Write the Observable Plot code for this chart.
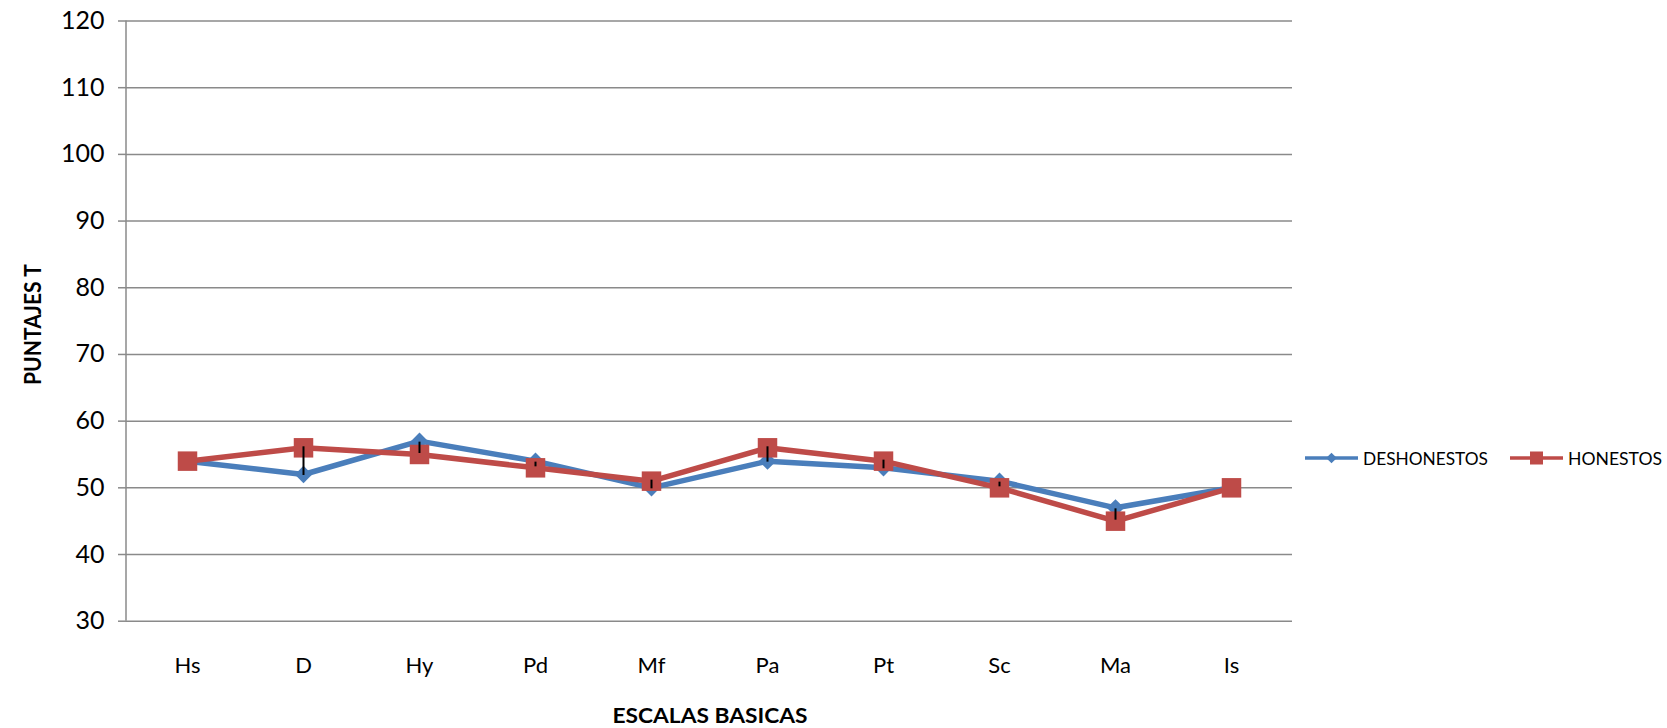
<!DOCTYPE html>
<html>
<head>
<meta charset="utf-8">
<script src="https://cdn.jsdelivr.net/npm/d3@7"></script>
<script src="https://cdn.jsdelivr.net/npm/@observablehq/plot@0.6"></script>
<style>
  html, body { margin: 0; padding: 0; background: #fff; }
  #wrap { position: relative; width: 1667px; height: 728px; font-family: Lato, "Open Sans", sans-serif; }
  #legend { position: absolute; left: 0; top: 0; pointer-events: none; }
</style>
</head>
<body>
<div id="wrap"></div>
<script>
const categories = ["Hs", "D", "Hy", "Pd", "Mf", "Pa", "Pt", "Sc", "Ma", "Is"];
const deshonestos = [54, 52, 57, 54, 50, 54, 53, 51, 47, 50];
const honestos    = [54, 56, 55, 53, 51, 56, 54, 50, 45, 50];
const seriesNames = ["DESHONESTOS", "HONESTOS"];
const yTicks = [30, 40, 50, 60, 70, 80, 90, 100, 110, 120];
const yTitle = "PUNTAJES T";
const xTitle = "ESCALAS BASICAS";

const blue = "#4A7EBB";
const red = "#BE4B48";
const grid = "#8A8A8A";
const font = "Lato, 'Open Sans', sans-serif";

const rows = categories.map((c, i) => ({cat: c, d: deshonestos[i], h: honestos[i]}));

// axis line + axis titles drawn from the frame dimensions
const frameExtras = (index, scales, values, dims) => {
  const g = d3.create("svg:g");
  const top = dims.marginTop, bottom = dims.height - dims.marginBottom;
  const left = dims.marginLeft, right = dims.width - dims.marginRight;
  g.append("line")
    .attr("x1", left).attr("x2", left)
    .attr("y1", top).attr("y2", bottom)
    .attr("stroke", grid).attr("stroke-width", 1.5);
  g.append("text")
    .attr("transform", `translate(${left - 94},${(top + bottom) / 2 + 4}) rotate(-90)`)
    .attr("text-anchor", "middle").attr("dominant-baseline", "central")
    .attr("font-family", font).attr("font-size", 22).attr("font-weight", "bold")
    .attr("textLength", 121).attr("lengthAdjust", "spacingAndGlyphs")
    .attr("fill", "#000").text(yTitle);
  g.append("text")
    .attr("x", (left + right) / 2 + 1).attr("y", bottom + 94)
    .attr("text-anchor", "middle").attr("dominant-baseline", "central")
    .attr("font-family", font).attr("font-size", 21).attr("font-weight", "bold")
    .attr("textLength", 195).attr("lengthAdjust", "spacingAndGlyphs")
    .attr("fill", "#000").text(xTitle);
  return g.node();
};

const chart = Plot.plot({
  width: 1667,
  height: 728,
  marginLeft: 126,
  marginRight: 375,
  marginTop: 20.5,
  marginBottom: 107.3,
  style: {fontFamily: font, background: "white", color: "#000"},
  x: {type: "point", domain: categories, padding: 0.5},
  y: {domain: [30, 120]},
  marks: [
    Plot.ruleY(yTicks, {stroke: grid, strokeWidth: 1.5, strokeOpacity: 1}),
    frameExtras,
    Plot.axisY({ticks: yTicks, tickSize: 8, tickPadding: 14, fontSize: 25, label: null, stroke: grid, strokeWidth: 1.5, strokeOpacity: 1, color: "#000"}),
    Plot.axisX({tickSize: 0, tickPadding: 36, fontSize: 22, label: null}),
    Plot.line(rows, {x: "cat", y: "d", stroke: blue, strokeWidth: 5.5, strokeLinejoin: "miter"}),
    Plot.dot(rows, {x: "cat", y: "d", symbol: "diamond2", r: 7.8, fill: blue, stroke: null}),
    Plot.line(rows, {x: "cat", y: "h", stroke: red, strokeWidth: 5.5, strokeLinejoin: "miter"}),
    Plot.dot(rows, {x: "cat", y: "h", symbol: "square", r: 11, fill: red, stroke: null}),
    Plot.ruleX(rows.filter(r => r.d !== r.h), {x: "cat", y1: "d", y2: "h", stroke: "#000", strokeWidth: 2, insetTop: 1, insetBottom: 1})
  ]
});
const wrap = document.getElementById("wrap");
wrap.appendChild(chart);

// legend overlay (right side)
const colors = [blue, red];
const legendItems = [
  {swatchX: 1305, textX: 1363, textLen: 125},
  {swatchX: 1510, textX: 1568, textLen: 94}
];
const lg = d3.create("svg").attr("id", "legend").attr("width", 1667).attr("height", 728);
const ly = 458;
seriesNames.forEach((name, i) => {
  const it = legendItems[i];
  lg.append("line").attr("x1", it.swatchX).attr("x2", it.swatchX + 53)
    .attr("y1", ly).attr("y2", ly).attr("stroke", colors[i]).attr("stroke-width", 3.5);
  const cx = it.swatchX + 26.5;
  if (i === 0) {
    lg.append("path").attr("d", d3.symbol(d3.symbolDiamond2, 72)()).attr("transform", `translate(${cx},${ly})`).attr("fill", colors[i]);
  } else {
    lg.append("rect").attr("x", cx - 6.5).attr("y", ly - 6.5).attr("width", 13).attr("height", 13).attr("fill", colors[i]);
  }
  lg.append("text").attr("x", it.textX).attr("y", ly).attr("dominant-baseline", "central")
    .attr("font-family", font).attr("font-size", 18).attr("fill", "#000")
    .attr("textLength", it.textLen).attr("lengthAdjust", "spacingAndGlyphs")
    .text(name);
});
wrap.appendChild(lg.node());
</script>
</body>
</html>
